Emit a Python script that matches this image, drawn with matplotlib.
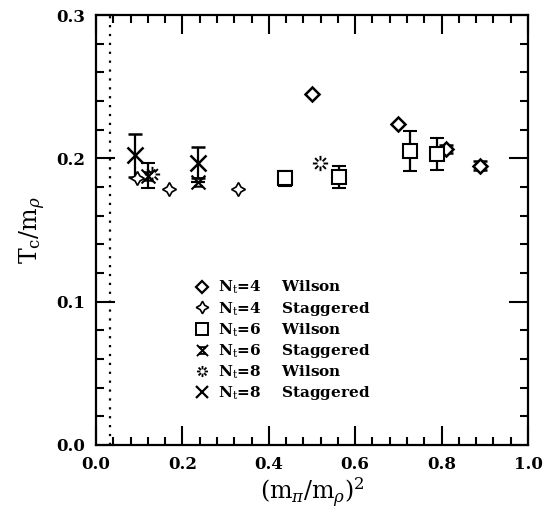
import numpy as np
import matplotlib
matplotlib.use("Agg")
import matplotlib.pyplot as plt
from matplotlib.path import Path

plt.rcParams['font.family'] = ['DejaVu Serif']
plt.rcParams['mathtext.fontset'] = 'dejavuserif'

# Nt=4 Wilson
w4_x = [0.50, 0.70, 0.81, 0.89]
w4_y = [0.245, 0.224, 0.2065, 0.195]
w4_e = [0.0, 0.0, 0.003, 0.003]
# Nt=4 Staggered
s4_x = [0.095, 0.169, 0.329]
s4_y = [0.186, 0.1785, 0.1785]
# Nt=6 Wilson
w6_x = [0.4375, 0.5625, 0.727, 0.79]
w6_y = [0.186, 0.187, 0.205, 0.203]
w6_e = [0.005, 0.008, 0.014, 0.011]
# Nt=6 Staggered
s6_x = [0.12, 0.236]
s6_y = [0.188, 0.1835]
s6_e = [0.009, 0.0]
# Nt=8 Wilson
w8_x = [0.13, 0.518]
w8_y = [0.189, 0.197]
# Nt=8 Staggered
s8_x = [0.09, 0.236]
s8_y = [0.202, 0.197]
s8_e = [0.015, 0.011]

vline_x = 0.033

# custom marker shapes
hour = Path([(-1, 1), (1, -1), (1, 1), (-1, -1), (-0.6, 0.6), (0.6, 0.6), (-0.6, -0.6), (0.6, -0.6)],
            [Path.MOVETO, Path.LINETO, Path.MOVETO, Path.LINETO,
             Path.MOVETO, Path.LINETO, Path.MOVETO, Path.LINETO])
verts, codes = [], []
for a in np.arange(8) * np.pi / 4:
    verts += [(0.4 * np.cos(a), 0.4 * np.sin(a)), (np.cos(a), np.sin(a))]
    codes += [Path.MOVETO, Path.LINETO]
ast = Path(verts, codes)

fig = plt.figure(figsize=(5.54, 5.16), dpi=100)
ax = fig.add_axes([0.1733, 0.1376, 0.7797, 0.8333])

ax.axvline(vline_x, color='black', linestyle=(0, (1, 3)), linewidth=1.6)

ekw = dict(ecolor='black', elinewidth=1.6, capsize=5, capthick=1.6, linestyle='none')
ax.errorbar(w4_x, w4_y, yerr=w4_e, marker='D', ms=7, mfc='white', mec='black', mew=1.8, **ekw)
ax.errorbar(s4_x, s4_y, marker=(4, 1, 0), ms=10, mfc='white', mec='black', mew=1.2, linestyle='none')
ax.errorbar(w6_x, w6_y, yerr=w6_e, marker='s', ms=10, mfc='white', mec='black', mew=1.5, **ekw)
ax.errorbar(s6_x, s6_y, yerr=s6_e, marker=hour, ms=10, mfc='none', mec='black', mew=1.5, **ekw)
ax.errorbar(w8_x, w8_y, marker=ast, ms=11, mfc='none', mec='black', mew=1.4, linestyle='none')
ax.errorbar(s8_x, s8_y, yerr=s8_e, marker='x', ms=11, mec='black', mew=1.8, **ekw)

ax.set_xlim(0, 1)
ax.set_ylim(0, 0.3)
ax.set_xticks(np.arange(0, 1.01, 0.2))
ax.set_xticks(np.arange(0, 1.01, 0.04), minor=True)
ax.set_yticks(np.arange(0, 0.31, 0.1))
ax.set_yticks(np.arange(0, 0.31, 0.02), minor=True)
ax.xaxis.set_major_formatter(matplotlib.ticker.FormatStrFormatter('%.1f'))
ax.yaxis.set_major_formatter(matplotlib.ticker.FormatStrFormatter('%.1f'))
ax.tick_params(which='both', direction='in', top=True, right=True, width=1.5, labelsize=12)
ax.tick_params(which='major', length=14, pad=8)
ax.tick_params(which='minor', length=6)
for lab in ax.get_xticklabels() + ax.get_yticklabels():
    lab.set_fontweight('bold')
for s in ax.spines.values():
    s.set_linewidth(1.6)

ax.set_xlabel(r'$(\mathrm{m}_\pi/\mathrm{m}_\rho)^2$', fontsize=17, labelpad=2)
ax.set_ylabel(r'$\mathrm{T_c}/\mathrm{m}_\rho$', fontsize=17, labelpad=6)

h = [
    plt.Line2D([], [], marker='D', ms=6, mfc='white', mec='black', mew=1.6, ls='none'),
    plt.Line2D([], [], marker=(4, 1, 0), ms=9, mfc='white', mec='black', mew=1.2, ls='none'),
    plt.Line2D([], [], marker='s', ms=8, mfc='white', mec='black', mew=1.4, ls='none'),
    plt.Line2D([], [], marker=hour, ms=8, mfc='none', mec='black', mew=1.4, ls='none'),
    plt.Line2D([], [], marker=ast, ms=8, mfc='none', mec='black', mew=1.3, ls='none'),
    plt.Line2D([], [], marker='x', ms=9, mec='black', mew=1.6, ls='none'),
]
labels = [r'N$_\mathrm{t}$=4    Wilson', r'N$_\mathrm{t}$=4    Staggered', r'N$_\mathrm{t}$=6    Wilson',
          r'N$_\mathrm{t}$=6    Staggered', r'N$_\mathrm{t}$=8    Wilson', r'N$_\mathrm{t}$=8    Staggered']
leg = ax.legend(h, labels, loc='upper left', bbox_to_anchor=(0.197, 0.418), frameon=False,
                handlelength=1.0, handletextpad=0.5, labelspacing=0.22,
                prop={'weight': 'bold', 'size': 11})

fig.savefig('out.png', dpi=100)
